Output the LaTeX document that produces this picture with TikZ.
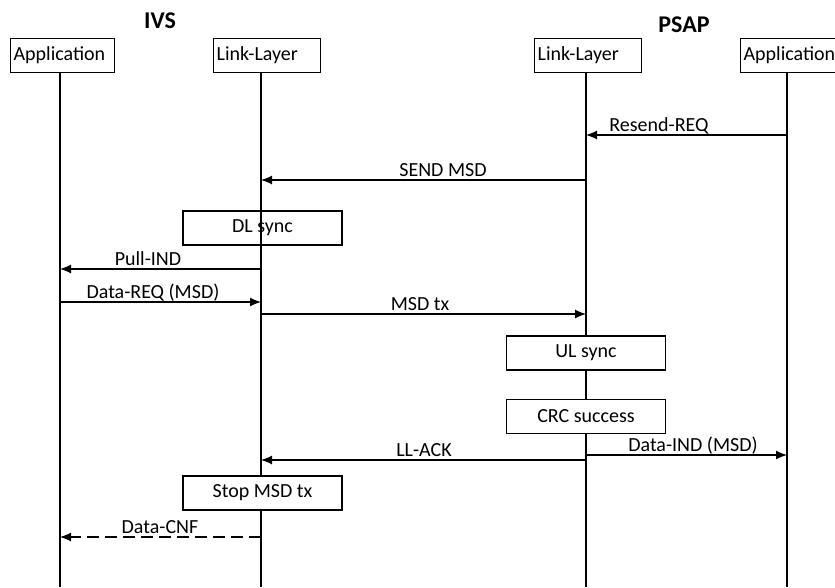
\documentclass[tikz,border=0pt]{standalone}
\usepackage{fontspec}
\setmainfont{Carlito}
\usetikzlibrary{arrows.meta}
\tikzset{
	actor/.style = {draw, line width=1.2pt, anchor=north west, minimum height=34pt,
		text width=101pt, inner xsep=3pt, align=left, font=\fontsize{20}{24}\selectfont},
	procbox/.style = {draw, line width=1.2pt, minimum width=159pt, minimum height=34pt,
		font=\fontsize{20}{24}\selectfont},
	side/.style = {font=\fontsize{24}{28}\selectfont\bfseries},
	lifeline/.style = {line width=1.2pt},
	msg/.style = {line width=1.2pt, -{Latex[length=11pt,width=9pt]}},
	reply/.style = {msg, dash pattern=on 12pt off 6pt},
	msglabel/.style = {anchor=base, inner sep=0pt, font=\fontsize{20}{24}\selectfont}
}

\begin{document}
\begin{tikzpicture}[x=1pt, y=-1pt]
	\useasboundingbox (0,0) rectangle (835,587);
	% the two sides
	\node[side] (ivs) at (160,21) {IVS};
	\node[side] (psap) at (684,25) {PSAP};
	\node[actor, text width=98pt] (ivsapp) at (10,38) {Application};
	\node[actor] (ivsll) at (213,38) {Link-Layer};
	\node[actor] (psapll) at (534,38) {Link-Layer};
	\node[actor] (psapapp) at (740,38) {Application};
	% lifelines
	\foreach \party/\lx in {ivsapp/60, ivsll/261, psapll/586, psapapp/787}
	{
		\coordinate (\party-end) at (\lx,587);
		\draw[lifeline] (\party.south -| \party-end) -- (\party-end);
	}
	% local steps
	\node[procbox] (dlsync) at (262.5,228) {DL sync};
	\node[procbox, fill=white] (ulsync) at (586,353) {UL sync};
	\node[procbox, fill=white] (crcok) at (586,416.5) {CRC success};
	\node[procbox, fill=white] (stopmsd) at (262.5,493) {Stop MSD tx};
	% messages: y / from / to / label x / label / kind
	\foreach [count=\i] \y/\from/\to/\lx/\txt/\kind in {
		135/psapapp/psapll/659/Resend-REQ/msg,
		180/psapll/ivsll/443/SEND MSD/msg,
		269/ivsll/ivsapp/148/Pull-IND/msg,
		302/ivsapp/ivsll/153/Data-REQ (MSD)/msg,
		314/ivsll/psapll/420/MSD tx/msg,
		455/psapll/psapapp/693/Data-IND (MSD)/msg,
		460/psapll/ivsll/424/LL-ACK/msg,
		537/ivsll/ivsapp/160/Data-CNF/reply}
	{
		\coordinate (row\i) at (0,\y);
		\draw[\kind] (\from-end |- row\i) -- (\to-end |- row\i);
		\node[msglabel] (label\i) at (\lx,\y-4) {\txt};
	}
\end{tikzpicture}
\end{document}
